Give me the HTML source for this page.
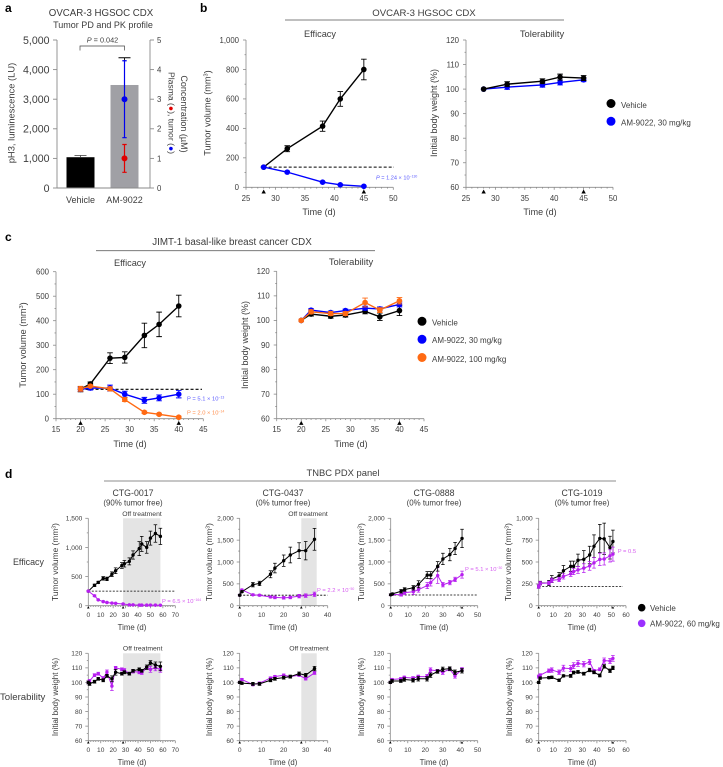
<!DOCTYPE html>
<html>
<head>
<meta charset="utf-8">
<title>AM-9022 efficacy and tolerability</title>
<style>
html,body{margin:0;padding:0;background:#fff;}
svg{display:block;font-family:"Liberation Sans",sans-serif;}
text{fill:#3c3c3c;}
.pl{font-weight:bold;font-size:12px;fill:#000;}
</style>
</head>
<body>
<svg id="fig" width="723" height="767" viewBox="0 0 723 767" xmlns="http://www.w3.org/2000/svg">
  <text class="pl" x="5" y="12">a</text>
  <text class="pl" x="200" y="12">b</text>
  <text class="pl" x="5" y="241">c</text>
  <text class="pl" x="5" y="478">d</text>

  <text x="101" y="16" font-size="9.7" text-anchor="middle">OVCAR-3 HGSOC CDX</text>
  <text x="103" y="28" font-size="9" text-anchor="middle">Tumor PD and PK profile</text>

  <text x="424" y="16" font-size="9.6" text-anchor="middle">OVCAR-3 HGSOC CDX</text>
  <line x1="285" x2="564" y1="20" y2="20" stroke="#555" stroke-width="0.8"/>
  <text x="320" y="37" font-size="9.2" text-anchor="middle">Efficacy</text>
  <text x="542" y="37" font-size="9.4" text-anchor="middle">Tolerability</text>

  <text x="232" y="245" font-size="9.8" text-anchor="middle">JIMT-1 basal-like breast cancer CDX</text>
  <line x1="96" x2="375" y1="250.7" y2="250.7" stroke="#666" stroke-width="0.8"/>
  <text x="130" y="266" font-size="9.2" text-anchor="middle">Efficacy</text>
  <text x="351" y="265" font-size="9.4" text-anchor="middle">Tolerability</text>

  <text x="343" y="476" font-size="9.4" text-anchor="middle">TNBC PDX panel</text>
  <line x1="104" x2="616" y1="481" y2="481" stroke="#666" stroke-width="0.8"/>
  <text x="13" y="565" font-size="8.9">Efficacy</text>
  <text x="0" y="700" font-size="9.6">Tolerability</text>

  <text x="133" y="496" font-size="8.8" text-anchor="middle">CTG-0017</text>
  <text x="133" y="505.5" font-size="7.9" text-anchor="middle">(90% tumor free)</text>
  <text x="283" y="496" font-size="8.8" text-anchor="middle">CTG-0437</text>
  <text x="283" y="505.5" font-size="7.9" text-anchor="middle">(0% tumor free)</text>
  <text x="434" y="496" font-size="8.8" text-anchor="middle">CTG-0888</text>
  <text x="434" y="505.5" font-size="7.9" text-anchor="middle">(0% tumor free)</text>
  <text x="582" y="496" font-size="8.8" text-anchor="middle">CTG-1019</text>
  <text x="582" y="505.5" font-size="7.9" text-anchor="middle">(0% tumor free)</text>

  <text x="142" y="516" font-size="6.8" text-anchor="middle">Off treatment</text>
  <text x="308" y="516" font-size="6.8" text-anchor="middle">Off treatment</text>
  <text x="142.7" y="650.5" font-size="6.8" text-anchor="middle">Off treatment</text>
  <text x="309" y="650.5" font-size="6.8" text-anchor="middle">Off treatment</text>

  <!-- P value labels -->
  <text x="376" y="179.5" font-size="5.6" style="fill:#5a5aff"><tspan font-style="italic" style="fill:#5a5aff">P</tspan> = 1.24 × 10<tspan dy="-2" font-size="3.4" style="fill:#5a5aff">−130</tspan></text>
  <text x="187" y="400.5" font-size="5.8" style="fill:#5a5aff">P = 5.1 × 10<tspan dy="-2" font-size="3.4" style="fill:#5a5aff">−13</tspan></text>
  <text x="187" y="414.5" font-size="5.8" style="fill:#ff8c4a">P = 2.0 × 10<tspan dy="-2" font-size="3.4" style="fill:#ff8c4a">−14</tspan></text>
  <text x="162" y="603" font-size="5.8" style="fill:#d65cf0">P = 6.5 × 10<tspan dy="-2" font-size="3.4" style="fill:#d65cf0">−164</tspan></text>
  <text x="317" y="592" font-size="5.8" style="fill:#d65cf0">P = 2.2 × 10<tspan dy="-2" font-size="3.4" style="fill:#d65cf0">−50</tspan></text>
  <text x="465" y="571" font-size="5.8" style="fill:#d65cf0">P = 5.1 × 10<tspan dy="-2" font-size="3.4" style="fill:#d65cf0">−30</tspan></text>
  <text x="617.7" y="553" font-size="5.8" style="fill:#d65cf0">P = 0.5</text>

  <!-- Legends -->
  <g>
    <circle cx="611" cy="103.5" r="4.5" fill="#000"/>
    <text x="621" y="108" font-size="8">Vehicle</text>
    <circle cx="611" cy="121.3" r="4.5" fill="#0000ff"/>
    <text x="621" y="125.5" font-size="8">AM-9022, 30 mg/kg</text>
  </g>
  <g>
    <circle cx="422" cy="321.3" r="4.5" fill="#000"/>
    <text x="432" y="325.5" font-size="8">Vehicle</text>
    <circle cx="422" cy="339.3" r="4.5" fill="#0000ff"/>
    <text x="432" y="343" font-size="8">AM-9022, 30 mg/kg</text>
    <circle cx="422" cy="357.5" r="4.5" fill="#ff6a13"/>
    <text x="432" y="362" font-size="8">AM-9022, 100 mg/kg</text>
  </g>
  <g>
    <circle cx="641.7" cy="607.7" r="3.8" fill="#000"/>
    <text x="650" y="611" font-size="8">Vehicle</text>
    <circle cx="641.7" cy="623.3" r="3.8" fill="#9b30ff"/>
    <text x="650" y="626.5" font-size="8">AM-9022, 60 mg/kg</text>
  </g>

  <!-- Axis titles with superscripts -->
  <text transform="translate(210.5,113) rotate(-90)" font-size="9.2" text-anchor="middle">Tumor volume (mm<tspan dy="-3" font-size="5.6">3</tspan><tspan dy="3">)</tspan></text>
  <text transform="translate(26,345) rotate(-90)" font-size="9.2" text-anchor="middle">Tumor volume (mm<tspan dy="-3" font-size="5.6">3</tspan><tspan dy="3">)</tspan></text>
  <text transform="translate(58,562) rotate(-90)" font-size="8.4" text-anchor="middle">Tumor volume (mm<tspan dy="-2.5" font-size="5.2">3</tspan><tspan dy="2.5">)</tspan></text>
  <text transform="translate(212,562) rotate(-90)" font-size="8.4" text-anchor="middle">Tumor volume (mm<tspan dy="-2.5" font-size="5.2">3</tspan><tspan dy="2.5">)</tspan></text>
  <text transform="translate(364,562) rotate(-90)" font-size="8.4" text-anchor="middle">Tumor volume (mm<tspan dy="-2.5" font-size="5.2">3</tspan><tspan dy="2.5">)</tspan></text>
  <text transform="translate(511,562) rotate(-90)" font-size="8.4" text-anchor="middle">Tumor volume (mm<tspan dy="-2.5" font-size="5.2">3</tspan><tspan dy="2.5">)</tspan></text>

  <!-- Panel a rotated titles -->
  <text transform="translate(14.5,113) rotate(-90)" font-size="9.4" text-anchor="middle">pH3, luminescence (LU)</text>
  <text transform="translate(181,114) rotate(90)" font-size="9" text-anchor="middle">Concentration (µM)</text>
  <text transform="translate(168.5,113) rotate(90)" font-size="8.6" text-anchor="middle">Plasma (<tspan style="fill:#e00000">●</tspan>), tumor (<tspan style="fill:#0000ee">●</tspan>)</text>
</svg>

<script>
// ---------- Panel a ----------
var aBarLabels = ["Vehicle", "AM-9022"];
var aBarValues = [1040, 3480];
var aBarErrors = [60, 920];
var aLeftTicks = [0, 1000, 2000, 3000, 4000, 5000];
var aRightTicks = [0, 1, 2, 3, 4, 5];
var aPlasmaValue = [1.0];
var aPlasmaError = [0.47];
var aTumorValue = [3.0];
var aTumorError = [1.3];

// ---------- Panel b ----------
var bDays = [28, 32, 38, 41, 45];
var bEffVehicle = [137, 262, 415, 600, 800];
var bEffVehicleErr = [5, 20, 35, 50, 70];
var bEffDrug = [137, 103, 35, 17, 7];
var bEffDrugErr = [3, 6, 5, 4, 3];
var bTolVehicle = [100, 102, 103.2, 104.9, 104.5];
var bTolVehicleErr = [0, 1, 1, 1.2, 1];
var bTolDrug = [100, 100.8, 101.7, 102.7, 103.8];
var bTolDrugErr = [0, 0.9, 0.9, 1, 0.8];
var bXTicks = [25, 30, 35, 40, 45, 50];
var bEffYTicks = [0, 200, 400, 600, 800, 1000];
var tolYTicks = [60, 70, 80, 90, 100, 110, 120];
var bDoseDays = [28, 45];
var bBaseline = [137];

// ---------- Panel c ----------
var cDays = [20, 22, 26, 29, 33, 36, 40];
var cEffVehicle = [120, 142, 247, 250, 340, 385, 460];
var cEffVehicleErr = [10, 8, 22, 23, 50, 50, 44];
var cEffDrug30 = [120, 125, 125, 100, 75, 85, 100];
var cEffDrug30Err = [8, 8, 12, 12, 12, 12, 15];
var cEffDrug100 = [122, 133, 122, 78, 26, 18, 6];
var cEffDrug100Err = [10, 5, 8, 8, 5, 4, 4];
var cTolVehicle = [100, 102.6, 101.7, 102.2, 103.7, 101.5, 104];
var cTolVehicleErr = [0, 0.8, 0.8, 0.8, 1, 1.5, 2];
var cTolDrug30 = [100, 104.2, 103.2, 104, 105, 104.7, 106.5];
var cTolDrug30Err = [0, 0.6, 0.6, 0.6, 0.8, 0.8, 1];
var cTolDrug100 = [100, 103.5, 102.8, 102.8, 107.3, 104.2, 108];
var cTolDrug100Err = [0.5, 0.8, 0.8, 0.8, 1.8, 1, 1.3];
var cXTicks = [15, 20, 25, 30, 35, 40, 45];
var cEffYTicks = [0, 100, 200, 300, 400, 500, 600];
var cDoseDays = [20, 40];
var cBaseline = [120];

// ---------- Panel d, CTG-0017 ----------
var d1VehDays = [0, 5, 8, 12, 15, 19, 22, 27, 29, 33, 36, 41, 43, 47, 50, 54, 58];
var d1EffVeh = [250, 350, 400, 470, 460, 540, 600, 690, 720, 760, 870, 980, 1060, 1000, 1160, 1240, 1190];
var d1EffVehErr = [10, 20, 20, 30, 30, 40, 50, 50, 55, 60, 70, 120, 130, 100, 120, 150, 140];
var d1DrugDays = [0, 5, 8, 12, 15, 19, 22, 28, 33, 36, 41, 43, 47, 50, 54, 58];
var d1EffDrug = [250, 170, 100, 70, 55, 45, 40, 30, 15, 15, 10, 10, 10, 10, 10, 8];
var d1EffDrugErr = [10, 15, 10, 10, 8, 6, 6, 6, 5, 5, 4, 4, 4, 4, 4, 4];
var d1TolDays = [0, 1, 5, 8, 12, 15, 19, 22, 27, 29, 33, 36, 41, 43, 47, 50, 54, 58];
var d1TolVeh = [100, 99, 100.5, 102.5, 101.5, 104.5, 102.5, 107, 106, 107, 106, 108, 109, 108, 110.5, 113.5, 112, 111];
var d1TolVehErr = [1, 1, 1, 1, 1, 1, 2, 2, 1, 1, 1, 1, 1, 1, 1.5, 1.5, 2, 3];
var d1TolDrug = [100, 101, 105, 106, 103, 107, 97.5, 110, 109, 108.5, 106, 107.5, 107, 106.5, 110, 109, 110, 109];
var d1TolDrugErr = [1, 1, 1, 1, 1, 1.5, 3, 1, 1, 1, 1, 1, 1, 1, 1, 2, 2, 2];
var d1XTicks = [0, 10, 20, 30, 40, 50, 60, 70];
var d1YTicks = [0, 500, 1000, 1500];
var d1Dose = [0, 28];
var d1Baseline = [250];
var d1Off = [28, 58];

// ---------- Panel d, CTG-0437 ----------
var d2Days = [0, 1, 6, 9, 14, 16, 20, 23, 27, 30, 34];
var d2EffVeh = [240, 320, 480, 510, 720, 860, 1030, 1160, 1260, 1260, 1520];
var d2EffVehErr = [15, 20, 50, 50, 80, 110, 130, 180, 180, 210, 250];
var d2EffDrug = [240, 360, 250, 240, 200, 190, 180, 190, 220, 230, 260];
var d2EffDrugErr = [15, 20, 20, 20, 20, 30, 30, 30, 40, 40, 50];
var d2TolVeh = [100, 99.5, 99, 99, 101.5, 102.5, 103.3, 104, 106, 105, 109.5];
var d2TolVehErr = [0.8, 0.8, 1, 1, 1, 1, 1, 1, 1.2, 1.2, 1.5];
var d2TolDrug = [100, 102, 98.5, 99.5, 103, 104, 105, 104, 105, 102.5, 106.5];
var d2TolDrugErr = [0.8, 0.8, 0.8, 0.8, 0.8, 0.8, 0.8, 0.8, 0.8, 0.8, 1];
var d2XTicks = [0, 10, 20, 30, 40];
var d2YTicks = [0, 500, 1000, 1500, 2000];
var d2Dose = [0, 28];
var d2Baseline = [240];
var d2Off = [28, 35];

// ---------- Panel d, CTG-0888 ----------
var d3Days = [0, 1, 6, 8, 13, 16, 21, 23, 27, 30, 34, 37, 41];
var d3EffVeh = [250, 270, 330, 370, 410, 490, 700, 700, 900, 1070, 1170, 1310, 1540];
var d3EffVehErr = [20, 20, 40, 40, 50, 80, 80, 80, 110, 130, 140, 140, 210];
var d3EffDrug = [250, 260, 250, 300, 320, 370, 460, 530, 690, 480, 530, 600, 710];
var d3EffDrugErr = [20, 20, 30, 40, 60, 60, 70, 80, 180, 50, 50, 50, 80];
var d3TolVeh = [100, 101, 101, 102, 101.5, 102.5, 102.5, 105, 107.5, 109, 109.5, 107, 108];
var d3TolVehErr = [0.8, 1, 1, 1.2, 1.2, 1.5, 1.5, 1.5, 1.2, 1.5, 1.2, 1.5, 1.5];
var d3TolDrug = [100, 102, 102.5, 103.5, 103, 104, 104, 108.5, 108, 107, 109, 104.5, 109];
var d3TolDrugErr = [0.8, 0.8, 0.8, 0.8, 1, 1, 1.5, 1.5, 1, 1.5, 1, 1.5, 1.2];
var d3XTicks = [0, 10, 20, 30, 40, 50];
var d3YTicks = [0, 500, 1000, 1500, 2000];
var d3Dose = [0, 41];
var d3Baseline = [245];

// ---------- Panel d, CTG-1019 ----------
var d4Days = [0, 1, 7, 9, 14, 17, 22, 24, 27, 31, 35, 38, 42, 45, 49, 51];
var d4EffVeh = [220, 260, 260, 305, 340, 400, 450, 450, 520, 530, 580, 680, 770, 765, 665, 735];
var d4EffVehErr = [20, 20, 30, 40, 40, 60, 60, 60, 70, 100, 100, 130, 160, 180, 130, 130];
var d4EffDrug = [220, 255, 260, 290, 300, 335, 365, 390, 410, 430, 455, 490, 530, 535, 570, 590];
var d4EffDrugErr = [20, 20, 20, 25, 25, 30, 30, 35, 40, 50, 50, 60, 70, 70, 70, 80];
var d4TolVeh = [100, 103, 103.3, 103.5, 101.5, 104.5, 104.5, 106.8, 107.2, 106, 108.5, 107, 104.8, 111, 108, 110];
var d4TolVehErr = [0.8, 0.8, 0.8, 0.8, 0.8, 0.8, 1, 1, 1, 1, 1.2, 1, 1, 1.2, 1.2, 1.2];
var d4TolDrug = [104, 105, 108, 108.5, 107, 109.8, 109.5, 111.5, 113, 112.5, 114, 108, 109, 115, 114.7, 116.5];
var d4TolDrugErr = [1, 1, 1.2, 1.5, 1.5, 2, 2, 2, 2, 1.8, 1.8, 1, 1, 1.8, 1.8, 2];
var d4XTicks = [0, 10, 20, 30, 40, 50, 60];
var d4YTicks = [0, 250, 500, 750, 1000];
var d4Dose = [0, 51];
var d4Baseline = [220];

var COL_BLACK = "#000000";
var COL_BLUE = "#0000ff";
var COL_ORANGE = "#ff6a13";
var COL_PURPLE = "#b71ff0";
var AXIS = "#8a8a8a";

var svg = document.getElementById("fig");
var NS = "http://www.w3.org/2000/svg";

function make(tag, attrs, parent) {
  var el = document.createElementNS(NS, tag);
  for (var k in attrs) el.setAttribute(k, attrs[k]);
  (parent || svg).appendChild(el);
  return el;
}
function fmt(v) {
  return String(v).replace(/\B(?=(\d{3})+(?!\d))/g, ",");
}
function linear(d0, d1, r0, r1) {
  return function (v) { return r0 + (v - d0) * (r1 - r0) / (d1 - d0); };
}

function drawChart(c) {
  var g = make("g", {});
  
  
  var sx = linear(c.xTicks[0], c.xTicks[c.xTicks.length - 1], c.px0, c.px1);
  var sy = linear(c.yTicks[0], c.yTicks[c.yTicks.length - 1], c.py0, c.py1);
  var i, j, el;

  if (c.off) {
    el = make("rect", { x: sx(c.off[0]), y: c.py1, width: sx(c.off[1]) - sx(c.off[0]), height: c.py0 - c.py1, fill: "#e4e4e4" }, g);
    
    
  }

  var axes = make("g", { stroke: AXIS, "stroke-width": 0.8, fill: "none" }, g);
  
  
  make("line", { x1: c.px0, x2: c.px0, y1: c.py1, y2: c.py0 }, axes);
  make("line", { x1: c.px0, x2: c.px1, y1: c.py0, y2: c.py0 }, axes);

  for (i = 0; i < c.yTicks.length; i++) {
    var yy = sy(c.yTicks[i]);
    make("line", { x1: c.px0 - 3, x2: c.px0, y1: yy, y2: yy }, axes);
    if (i < c.yTicks.length - 1 && c.yMinor) {
      var ym = sy((c.yTicks[i] + c.yTicks[i + 1]) / 2);
      make("line", { x1: c.px0 - 1.5, x2: c.px0, y1: ym, y2: ym }, axes);
    }
    el = make("text", { x: c.px0 - c.ylabGap, y: yy + c.fs * 0.36, "font-size": c.fs, "text-anchor": "end" }, g);
    
    
    el.textContent = fmt(c.yTicks[i]);
  }
  var xStep = c.xTicks[1] - c.xTicks[0];
  for (i = 0; i < c.xTicks.length; i++) {
    var xx = sx(c.xTicks[i]);
    make("line", { x1: xx, x2: xx, y1: c.py0, y2: c.py0 + 2.5 }, axes);
    if (i < c.xTicks.length - 1) {
      for (j = 1; j < c.minorN; j++) {
        var xm = sx(c.xTicks[i] + xStep * j / c.minorN);
        make("line", { x1: xm, x2: xm, y1: c.py0, y2: c.py0 + 1.3 }, axes);
      }
    }
    el = make("text", { x: xx, y: c.xlabY, "font-size": c.fs, "text-anchor": "middle" }, g);
    
    
    el.textContent = c.xTicks[i];
  }

  if (c.dose) {
    for (i = 0; i < c.dose.length; i++) {
      var tx = sx(c.dose[i]);
      var ts = c.triSize;
      el = make("polygon", { points: (tx - ts) + "," + (c.py0 + c.triTop + ts * 1.8) + " " + (tx + ts) + "," + (c.py0 + c.triTop + ts * 1.8) + " " + tx + "," + (c.py0 + c.triTop), fill: "#000" }, g);
      
      
    }
  }

  if (c.baseline) {
    el = make("line", { x1: sx(c.baseStart), x2: c.baseEnd, y1: sy(c.baseline[0]), y2: sy(c.baseline[0]), stroke: "#000", "stroke-width": c.baseW, "stroke-dasharray": c.baseDash }, g);
    
    
  }

  for (i = 0; i < c.series.length; i++) {
    var s = c.series[i];
    var sg = make("g", {}, g);
    
    
    var pts = [];
    for (j = 0; j < s.x.length; j++) {
      pts.push(sx(s.x[j]) + "," + sy(s.y[j]));
      var ex = sx(s.x[j]), e = s.e ? s.e[j] : 0;
      if (e) {
        var top = sy(s.y[j] + e), bot = sy(s.y[j] - e);
        make("path", { d: "M" + (ex - c.cap) + " " + top + "H" + (ex + c.cap) + "M" + ex + " " + top + "V" + bot + "M" + (ex - c.cap) + " " + bot + "H" + (ex + c.cap), stroke: s.color, "stroke-width": c.errW, fill: "none" }, sg);
      }
    }
    make("polyline", { points: pts.join(" "), fill: "none", stroke: s.color, "stroke-width": c.lineW }, sg);
    for (j = 0; j < s.x.length; j++) {
      el = make("circle", { cx: sx(s.x[j]), cy: sy(s.y[j]), r: c.r, fill: s.color }, sg);
      
      
    }
  }

  el = make("text", { x: c.timeX, y: c.timeY, "font-size": c.timeFs, "text-anchor": "middle" }, g);
  
  
  el.textContent = "Time (d)";

  if (c.yTitle) {
    el = make("text", { transform: "translate(" + c.yTitleX + "," + c.yTitleY + ") rotate(-90)", "font-size": c.yTitleFs, "text-anchor": "middle" }, g);
    
    
    el.textContent = c.yTitle;
  }
}

function ser(name, color, x, y, e) {
  return { name: name, color: color, x: x, y: y, e: e };
}

var bigStyle = { fs: 7.8, ylabGap: 7, minorN: 5, yMinor: true, triSize: 2.2, triTop: 2.2, cap: 2.8, errW: 0.9, lineW: 1.4, r: 2.8, baseW: 1.1, baseDash: "3 2", timeFs: 9, yTitleFs: 9 };
var smallStyle = { fs: 6.6, ylabGap: 6, minorN: 5, yMinor: true, triSize: 1.3, triTop: 0.5, cap: 1.8, errW: 0.75, lineW: 1, r: 1.7, baseW: 0.8, baseDash: "2 1.5", timeFs: 7.8, yTitleFs: 8 };

function chart(style, cfg) {
  var c = {};
  for (var k in style) c[k] = style[k];
  for (var m in cfg) c[m] = cfg[m];
  drawChart(c);
}

// Panel a
(function () {
  var sy = linear(0, 5000, 188, 40);
  var sr = linear(0, 5, 188, 40);
  var g = make("g", {});
  
  
  var barCenters = [80.5, 124.5];
  var barColors = ["#000000", "#a0a0a5"];
  var i, el;
  for (i = 0; i < aBarValues.length; i++) {
    var top = sy(aBarValues[i]);
    el = make("rect", { x: barCenters[i] - 14, y: top, width: 28, height: 188 - top, fill: barColors[i] }, g);
    
    
    var te = sy(aBarValues[i] + aBarErrors[i]);
    el = make("path", { d: "M" + (barCenters[i] - 6) + " " + te + "H" + (barCenters[i] + 6) + "M" + barCenters[i] + " " + te + "V" + top, stroke: i === 0 ? "#555" : "#000", "stroke-width": 0.9, fill: "none" }, g);
    
    
    el = make("text", { x: barCenters[i], y: 203, "font-size": 9, "text-anchor": "middle" }, g);
    
    
    el.textContent = aBarLabels[i];
  }
  make("line", { x1: 57, x2: 57, y1: 40, y2: 188, stroke: AXIS, "stroke-width": 0.9 }, g);
  make("line", { x1: 57, x2: 150, y1: 188, y2: 188, stroke: AXIS, "stroke-width": 0.9 }, g);
  make("line", { x1: 150, x2: 150, y1: 40, y2: 188, stroke: AXIS, "stroke-width": 0.9 }, g);
  for (i = 0; i < aLeftTicks.length; i++) {
    make("line", { x1: 53, x2: 57, y1: sy(aLeftTicks[i]), y2: sy(aLeftTicks[i]), stroke: AXIS, "stroke-width": 0.9 }, g);
    el = make("text", { x: 49.5, y: sy(aLeftTicks[i]) + 3.8, "font-size": 10.6, "text-anchor": "end" }, g);
    
    
    el.textContent = fmt(aLeftTicks[i]);
  }
  for (i = 0; i < aRightTicks.length; i++) {
    make("line", { x1: 150, x2: 154, y1: sr(aRightTicks[i]), y2: sr(aRightTicks[i]), stroke: AXIS, "stroke-width": 0.9 }, g);
    el = make("text", { x: 157, y: sr(aRightTicks[i]) + 2.9, "font-size": 7.8 }, g);
    
    
    el.textContent = aRightTicks[i];
  }
  function pk(name, color, v, e) {
    var cx = barCenters[1];
    var t = sr(v + e), b = sr(v - e);
    var pg = make("g", {}, g);
    
    
    make("path", { d: "M" + (cx - 2.2) + " " + t + "H" + (cx + 2.2) + "M" + cx + " " + t + "V" + b + "M" + (cx - 2.2) + " " + b + "H" + (cx + 2.2), stroke: color, "stroke-width": 1.2, fill: "none" }, pg);
    make("circle", { cx: cx, cy: sr(v), r: 3, fill: color }, pg);
  }
  pk("tumor-concentration", "#0000ee", aTumorValue[0], aTumorError[0]);
  pk("plasma-concentration", "#e00000", aPlasmaValue[0], aPlasmaError[0]);
  el = make("path", { d: "M80 50.5V46H124.5V50.5", fill: "none", stroke: "#444", "stroke-width": 0.7 }, g);
  
  
  el = make("text", { x: 102.5, y: 42.7, "font-size": 7.3, "text-anchor": "middle" }, g);
  
  
  el.innerHTML = '<tspan font-style="italic">P</tspan> = 0.042';
})();

// Panel b
chart(bigStyle, { name: "panel-b-efficacy", px0: 246, px1: 393.3, py0: 187.3, py1: 40, xTicks: bXTicks, yTicks: bEffYTicks, xlabY: 201, dose: bDoseDays, baseline: bBaseline, baseStart: 28, baseEnd: 394, timeX: 319, timeY: 215, series: [ser("vehicle", COL_BLACK, bDays, bEffVehicle, bEffVehicleErr), ser("am-9022", COL_BLUE, bDays, bEffDrug, bEffDrugErr)] });
chart(bigStyle, { name: "panel-b-tolerability", px0: 466, px1: 613, py0: 187.3, py1: 40, xTicks: bXTicks, yTicks: tolYTicks, xlabY: 201, dose: bDoseDays, timeX: 540, timeY: 215, yTitle: "Initial body weight (%)", yTitleX: 437, yTitleY: 113, series: [ser("am-9022", COL_BLUE, bDays, bTolDrug, bTolDrugErr), ser("vehicle", COL_BLACK, bDays, bTolVehicle, bTolVehicleErr)] });

// Panel c
chart(bigStyle, { name: "panel-c-efficacy", px0: 56, px1: 203.3, py0: 418.7, py1: 271.7, xTicks: cXTicks, yTicks: cEffYTicks, xlabY: 432, dose: cDoseDays, baseline: cBaseline, baseStart: 20, baseEnd: 202, timeX: 130, timeY: 447, series: [ser("vehicle", COL_BLACK, cDays, cEffVehicle, cEffVehicleErr), ser("am-9022-30mg", COL_BLUE, cDays, cEffDrug30, cEffDrug30Err), ser("am-9022-100mg", COL_ORANGE, cDays, cEffDrug100, cEffDrug100Err)] });
chart(bigStyle, { name: "panel-c-tolerability", px0: 276.7, px1: 424, py0: 418.7, py1: 271.3, xTicks: cXTicks, yTicks: tolYTicks, xlabY: 432, dose: cDoseDays, timeX: 351, timeY: 447, yTitle: "Initial body weight (%)", yTitleX: 248, yTitleY: 345, series: [ser("vehicle", COL_BLACK, cDays, cTolVehicle, cTolVehicleErr), ser("am-9022-30mg", COL_BLUE, cDays, cTolDrug30, cTolDrug30Err), ser("am-9022-100mg", COL_ORANGE, cDays, cTolDrug100, cTolDrug100Err)] });

// Panel d efficacy
chart(smallStyle, { name: "ctg-0017-efficacy", px0: 88.3, px1: 175.3, py0: 605.7, py1: 518.3, xTicks: d1XTicks, yTicks: d1YTicks, xlabY: 617, dose: d1Dose, baseline: d1Baseline, baseStart: 0, baseEnd: 175.6, off: d1Off, timeX: 132, timeY: 630, series: [ser("vehicle", COL_BLACK, d1VehDays, d1EffVeh, d1EffVehErr), ser("am-9022", COL_PURPLE, d1DrugDays, d1EffDrug, d1EffDrugErr)] });
chart(smallStyle, { name: "ctg-0437-efficacy", px0: 239.7, px1: 327.7, py0: 605.7, py1: 518.3, xTicks: d2XTicks, yTicks: d2YTicks, xlabY: 617, dose: d2Dose, baseline: d2Baseline, baseStart: 0, baseEnd: 327.5, off: d2Off, timeX: 283, timeY: 630, series: [ser("am-9022", COL_PURPLE, d2Days, d2EffDrug, d2EffDrugErr), ser("vehicle", COL_BLACK, d2Days, d2EffVeh, d2EffVehErr)] });
chart(smallStyle, { name: "ctg-0888-efficacy", px0: 390.7, px1: 477.7, py0: 605.7, py1: 518.3, xTicks: d3XTicks, yTicks: d3YTicks, xlabY: 617, dose: d3Dose, baseline: d3Baseline, baseStart: 0, baseEnd: 478, timeX: 434, timeY: 630, series: [ser("am-9022", COL_PURPLE, d3Days, d3EffDrug, d3EffDrugErr), ser("vehicle", COL_BLACK, d3Days, d3EffVeh, d3EffVehErr)] });
chart(smallStyle, { name: "ctg-1019-efficacy", px0: 538.7, px1: 626, py0: 605.7, py1: 518.3, xTicks: d4XTicks, yTicks: d4YTicks, xlabY: 617, dose: d4Dose, baseline: d4Baseline, baseStart: 0, baseEnd: 623, timeX: 582, timeY: 630, series: [ser("vehicle", COL_BLACK, d4Days, d4EffVeh, d4EffVehErr), ser("am-9022", COL_PURPLE, d4Days, d4EffDrug, d4EffDrugErr)] });

// Panel d tolerability
chart(smallStyle, { name: "ctg-0017-tolerability", px0: 88.3, px1: 175.3, py0: 740.7, py1: 653.3, xTicks: d1XTicks, yTicks: tolYTicks, xlabY: 752, dose: d1Dose, off: d1Off, timeX: 132, timeY: 765, yTitle: "Initial body weight (%)", yTitleX: 58, yTitleY: 697, series: [ser("am-9022", COL_PURPLE, d1TolDays, d1TolDrug, d1TolDrugErr), ser("vehicle", COL_BLACK, d1TolDays, d1TolVeh, d1TolVehErr)] });
chart(smallStyle, { name: "ctg-0437-tolerability", px0: 239.7, px1: 327.7, py0: 740.7, py1: 653.3, xTicks: d2XTicks, yTicks: tolYTicks, xlabY: 752, dose: d2Dose, off: d2Off, timeX: 283, timeY: 765, yTitle: "Initial body weight (%)", yTitleX: 212, yTitleY: 697, series: [ser("am-9022", COL_PURPLE, d2Days, d2TolDrug, d2TolDrugErr), ser("vehicle", COL_BLACK, d2Days, d2TolVeh, d2TolVehErr)] });
chart(smallStyle, { name: "ctg-0888-tolerability", px0: 390.3, px1: 477.7, py0: 740.7, py1: 653.3, xTicks: d3XTicks, yTicks: tolYTicks, xlabY: 752, dose: d3Dose, timeX: 434, timeY: 765, yTitle: "Initial body weight (%)", yTitleX: 364, yTitleY: 697, series: [ser("am-9022", COL_PURPLE, d3Days, d3TolDrug, d3TolDrugErr), ser("vehicle", COL_BLACK, d3Days, d3TolVeh, d3TolVehErr)] });
chart(smallStyle, { name: "ctg-1019-tolerability", px0: 538.7, px1: 626, py0: 740.7, py1: 653.3, xTicks: d4XTicks, yTicks: tolYTicks, xlabY: 752, dose: d4Dose, timeX: 582, timeY: 765, yTitle: "Initial body weight (%)", yTitleX: 512, yTitleY: 697, series: [ser("am-9022", COL_PURPLE, d4Days, d4TolDrug, d4TolDrugErr), ser("vehicle", COL_BLACK, d4Days, d4TolVeh, d4TolVehErr)] });
</script>
</body>
</html>
